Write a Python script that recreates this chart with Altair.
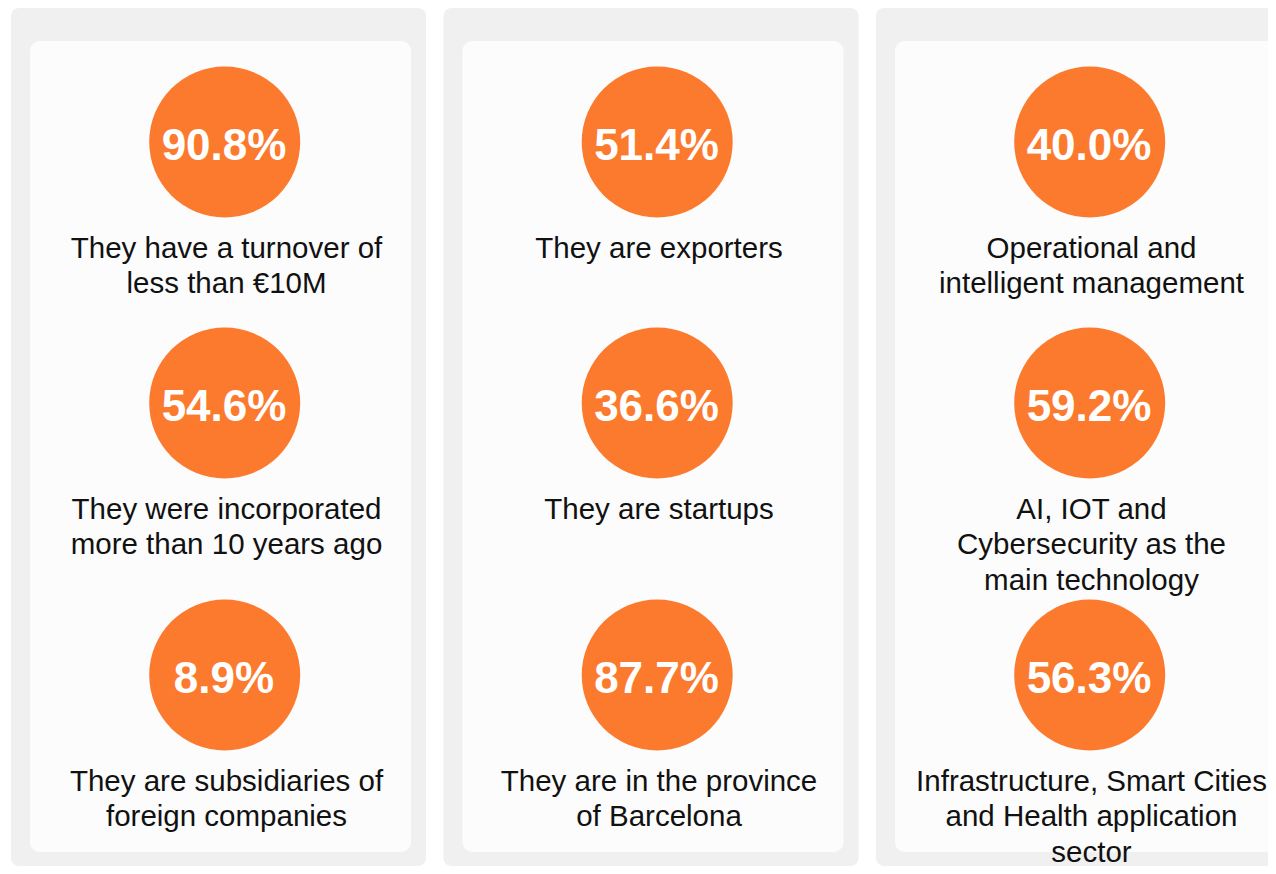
import altair as alt
import pandas as pd

# ---- data ----
columns = [0, 0, 0, 1, 1, 1, 2, 2, 2]
rows = [0, 1, 2, 0, 1, 2, 0, 1, 2]
percent = [90.8, 54.6, 8.9, 51.4, 36.6, 87.7, 40.0, 59.2, 56.3]
labels = [
    "They have a turnover of\nless than €10M",
    "They were incorporated\nmore than 10 years ago",
    "They are subsidiaries of\nforeign companies",
    "They are exporters",
    "They are startups",
    "They are in the province\nof Barcelona",
    "Operational and\nintelligent management",
    "AI, IOT and\nCybersecurity as the\nmain technology",
    "Infrastructure, Smart Cities\nand Health application\nsector",
]
panels = [0, 1, 2]

ORANGE = "#FC7A2E"
GRAY = "#F0F0F0"
CARD = "#FCFCFC"
FONT = "Liberation Sans"

df = pd.DataFrame({"col": columns, "row": rows, "value": percent, "label": labels})
pdf = pd.DataFrame({"col": panels})

xs = alt.Scale(domain=[0, 2], range=[3, 868], nice=False, zero=False)
ys = alt.Scale(domain=[0, 1, 2], range=[134, 395, 667], nice=False, zero=False)

gray = alt.Chart(pdf).mark_rect(color=GRAY, cornerRadius=8, x2Offset=415).encode(
    x=alt.X("col:Q", scale=xs, axis=None),
    x2="col:Q",
)

card = alt.Chart(pdf).mark_rect(color=CARD, cornerRadius=10, xOffset=19, x2Offset=400).encode(
    x=alt.X("col:Q", scale=xs, axis=None),
    x2="col:Q",
    y=alt.value(33),
    y2=alt.value(844),
)

base = alt.Chart(df).encode(
    x=alt.X("col:Q", scale=xs, axis=None),
    y=alt.Y("row:Q", scale=ys, axis=None),
)

circles = base.mark_circle(size=22800, color=ORANGE, opacity=1, xOffset=213.7)

pct = base.transform_calculate(
    txt="format(datum.value, '.1f') + '%'"
).mark_text(
    font=FONT, fontSize=44, fontWeight="bold", color="white",
    align="center", baseline="alphabetic", dx=213, dy=17.5,
).encode(text="txt:N")

lab = base.mark_text(
    font=FONT, fontSize=29.5, lineHeight=35.5, lineBreak="\n", color="#111111",
    align="center", baseline="alphabetic", dx=215.5, dy=115.5,
).encode(text="label:N")

chart = alt.layer(gray, card, circles, pct, lab).properties(
    width=1260, height=858, padding=0, autosize="none", background="white"
).configure_view(stroke=None)

chart.save("out.html", embed_options={"renderer": "svg", "actions": False})
